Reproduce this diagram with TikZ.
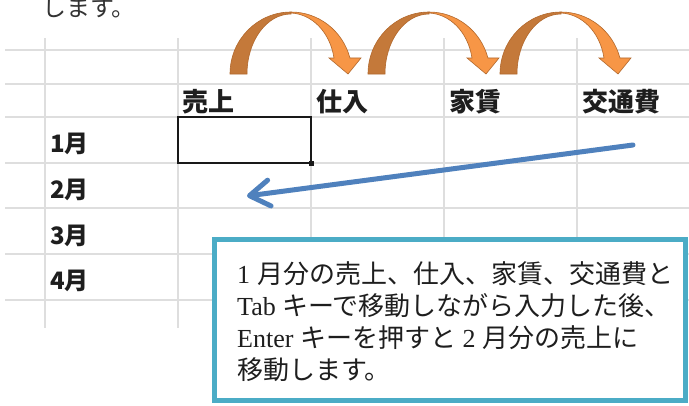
\documentclass[tikz,border=0pt]{standalone}
\usepackage{fontspec}
\setmainfont{Liberation Serif}
\newfontfamily\cjk{Noto Sans CJK JP}
\usetikzlibrary{arrows.meta}
\definecolor{gridc}{RGB}{222,222,222}
\definecolor{darkor}{RGB}{196,121,58}
\definecolor{lightor}{RGB}{247,150,70}
\definecolor{oredge}{RGB}{178,104,44}
\definecolor{bluear}{RGB}{79,129,189}
\definecolor{cyanb}{RGB}{75,172,198}
\definecolor{txt}{RGB}{30,30,30}
\begin{document}
\begin{tikzpicture}[x=1pt,y=-1pt,
  gridline/.style={draw=gridc,line width=1.2pt},
  hdr/.style={font=\cjk\bfseries\fontsize{26}{30}\selectfont,anchor=base west,inner sep=0pt,text=txt},
  mon/.style={font=\cjk\bfseries\fontsize{24}{28}\selectfont,anchor=base west,inner sep=0pt,text=txt},
  notetext/.style={font=\fontsize{26}{32}\selectfont,anchor=base west,inner sep=0pt,text=txt},
  curvarrow/.pic={
    \fill[darkor,draw=oredge,line width=0.6pt] (0,0) arc[start angle=180,end angle=270,x radius=61,y radius=62] -- (61,-60) arc[start angle=270,end angle=180,x radius=44,y radius=60] -- cycle;
    \fill[lightor,draw=oredge,line width=0.6pt] (61,-62) arc[start angle=270,end angle=345,x radius=61,y radius=62] -- (131,-16) -- (118,0) -- (99,-16) -- (104,-16) .. controls (100,-42) and (82,-60) .. (61,-61) -- cycle;
  }]
\useasboundingbox (0,0) rectangle (689,405);
\fill[white] (0,0) rectangle (689,405);
% grid
\foreach \yy in {50,84,117,163,208,254,300} \draw[gridline] (5,\yy) -- (689,\yy);
\foreach \xx in {45,178,311,444,577} \draw[gridline] (\xx,38) -- (\xx,328);
% top text
\node[anchor=base west,inner sep=0pt,font=\cjk\fontsize{24}{27}\selectfont,text=black!80] (toptext) at (42,16.5) {します。};
% curved arrows
\pic at (230,74) {curvarrow};
\pic at (368,74) {curvarrow};
\pic at (500,74) {curvarrow};
% headers
\node[hdr] (h1) at (182,111) {売上};
\node[hdr] (h2) at (316,111) {仕入};
\node[hdr] (h3) at (449,111) {家賃};
\node[hdr] (h4) at (582,111) {交通費};
% months
\node[mon] (m1) at (50,152) {1月};
\node[mon] (m2) at (50,198) {2月};
\node[mon] (m3) at (50,244) {3月};
\node[mon] (m4) at (50,289) {4月};
% selected cell
\node[draw=black!90,line width=2pt,minimum width=133pt,minimum height=46pt,anchor=north west,inner sep=0pt,outer sep=0pt] (sel) at (178,117) {};
\fill[black!90] ([xshift=-2.5pt,yshift=-2.5pt]sel.south east) rectangle ([xshift=2.5pt,yshift=2.5pt]sel.south east);
% blue arrow
\coordinate (bs) at (633,145);
\coordinate (be) at (247,196);
\draw[bluear,line width=5pt,line cap=round,-{Straight Barb[length=20pt,width=26pt,round]}] (bs) -- (be);
% note box
\node[draw=cyanb,line width=5pt,fill=white,minimum width=471pt,minimum height=161pt,anchor=north west,inner sep=0pt,outer sep=0pt] (note) at (214.5,239.5) {};
\node[notetext] (l1) at (237,283) {1\hspace{7pt}{\cjk 月分の売上、仕入、家賃、交通費と}};
\node[notetext] (l2) at (237,315) {Tab {\cjk キーで移動しながら入力した後、}};
\node[notetext] (l3) at (237,347) {Enter {\cjk キーを押すと} 2 {\cjk 月分の売上に}};
\node[notetext] (l4) at (237,379) {\cjk 移動します。};
\end{tikzpicture}
\end{document}
